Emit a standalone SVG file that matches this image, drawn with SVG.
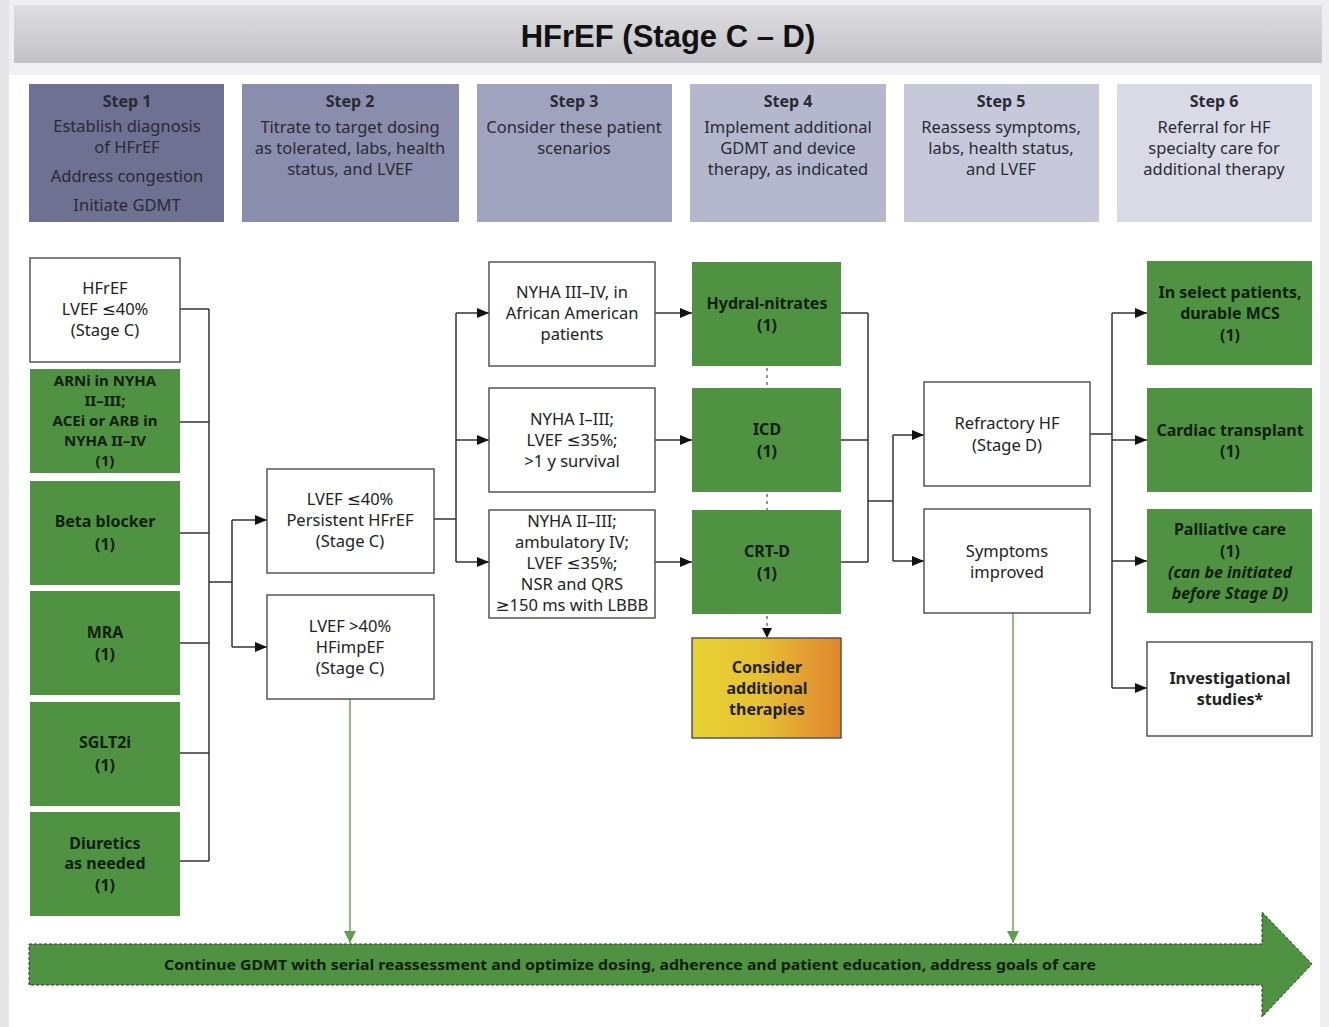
<svg xmlns="http://www.w3.org/2000/svg" width="1329" height="1027" viewBox="0 0 1329 1027">
<defs>
<linearGradient id="hdr" x1="0" y1="0" x2="0" y2="1">
<stop offset="0" stop-color="#dedee1"/><stop offset="1" stop-color="#c3c3c7"/>
</linearGradient>
<linearGradient id="warm" x1="0" y1="0" x2="1" y2="0">
<stop offset="0" stop-color="#e8d232"/><stop offset="0.45" stop-color="#e6c234"/><stop offset="1" stop-color="#e0852e"/>
</linearGradient>
<marker id="ah" markerUnits="userSpaceOnUse" markerWidth="12" markerHeight="10" refX="12" refY="5" orient="auto">
<path d="M0,0 L12,5 L0,10 Z" fill="#111"/>
</marker>
<marker id="ahg" markerUnits="userSpaceOnUse" markerWidth="12" markerHeight="12" refX="6" refY="12" orient="0">
<path d="M0,0 L12,0 L6,12 Z" fill="#5f9f4e"/>
</marker>
<marker id="ahd" markerUnits="userSpaceOnUse" markerWidth="10" markerHeight="10" refX="5" refY="10" orient="0">
<path d="M0,0 L10,0 L5,10 Z" fill="#111"/>
</marker>
<style>
.step text{font-family:"Noto Sans","DejaVu Sans",sans-serif;font-size:16.5px;fill:#2a2a34;text-anchor:middle}
.step .h{font-weight:bold;font-size:16px}
.wb rect{fill:#fff;stroke:#555;stroke-width:1.5}
.gb rect{fill:#4f9241;stroke:none}
.wb text{font-family:"Noto Sans","DejaVu Sans",sans-serif;font-size:16.5px;fill:#222;text-anchor:middle}
.gb text,.bold text{font-family:"Noto Sans","DejaVu Sans",sans-serif;font-size:16px;font-weight:bold;fill:#13200f;text-anchor:middle}
.gb .s{font-size:15px}
.bold text{fill:#222}
.it{font-style:italic}
.conn path{fill:none;stroke:#333;stroke-width:1.5}
.conn .g{stroke:#6aa85a;stroke-width:1.5}
.conn .dot{stroke:#777;stroke-dasharray:3 4;stroke-width:1.6}
</style>
</defs>
<rect x="0" y="0" width="1329" height="1027" fill="#fff"/>
<rect x="0" y="0" width="1329" height="75" fill="#f0f0f2"/>
<rect x="0" y="0" width="9" height="1027" fill="#e6e6e9"/>
<rect x="1320" y="0" width="9" height="1027" fill="#eeeef0"/>
<g id="title">
<rect x="14" y="5" width="1308" height="58" fill="url(#hdr)"/>
<text x="668" y="47" font-family="Liberation Sans,Arial,sans-serif" font-size="31" font-weight="bold" text-anchor="middle" fill="#111">HFrEF (Stage C – D)</text>
</g>
<g id="step1" class="step"><rect x="29" y="84" width="195" height="138" fill="#6e7191"/>
<text class="h" x="127" y="107">Step 1</text><text x="127" y="132">Establish diagnosis</text><text x="127" y="153">of HFrEF</text><text x="127" y="182">Address congestion</text><text x="127" y="211">Initiate GDMT</text></g>
<g id="step2" class="step"><rect x="242" y="84" width="217" height="138" fill="#8a8dab"/>
<text class="h" x="350" y="107">Step 2</text><text x="350" y="133">Titrate to target dosing</text><text x="350" y="154">as tolerated, labs, health</text><text x="350" y="175">status, and LVEF</text></g>
<g id="step3" class="step"><rect x="477" y="84" width="195" height="138" fill="#a0a3bd"/>
<text class="h" x="574" y="107">Step 3</text><text x="574" y="133">Consider these patient</text><text x="574" y="154">scenarios</text></g>
<g id="step4" class="step"><rect x="690" y="84" width="196" height="138" fill="#b5b8cd"/>
<text class="h" x="788" y="107">Step 4</text><text x="788" y="133">Implement additional</text><text x="788" y="154">GDMT and device</text><text x="788" y="175">therapy, as indicated</text></g>
<g id="step5" class="step"><rect x="904" y="84" width="195" height="138" fill="#c7c9da"/>
<text class="h" x="1001" y="107">Step 5</text><text x="1001" y="133">Reassess symptoms,</text><text x="1001" y="154">labs, health status,</text><text x="1001" y="175">and LVEF</text></g>
<g id="step6" class="step"><rect x="1117" y="84" width="195" height="138" fill="#d9dae6"/>
<text class="h" x="1214" y="107">Step 6</text><text x="1214" y="133">Referral for HF</text><text x="1214" y="154">specialty care for</text><text x="1214" y="175">additional therapy</text></g>

<g class="conn" id="connectors">
<path d="M180,309 H209 M180,422 H209 M180,533 H209 M180,643 H209 M180,753 H209 M180,861 H209 M209,309 V861"/>
<path d="M209,582 H232 M232,520 V647"/>
<path d="M232,520 H267" marker-end="url(#ah)"/>
<path d="M232,647 H267" marker-end="url(#ah)"/>
<path d="M434,519 H456 M456,313 V562"/>
<path d="M456,313 H489" marker-end="url(#ah)"/>
<path d="M456,440 H489" marker-end="url(#ah)"/>
<path d="M456,562 H489" marker-end="url(#ah)"/>
<path d="M655,313 H692" marker-end="url(#ah)"/>
<path d="M655,440 H692" marker-end="url(#ah)"/>
<path d="M655,562 H692" marker-end="url(#ah)"/>
<path class="dot" d="M767,368 V388 M767,494 V510"/>
<path class="dot" d="M767,616 V628"/>
<path d="M767,627 V638" marker-end="url(#ahd)" style="stroke:none"/>
<path d="M841,313 H868 M841,440 H868 M841,562 H868 M868,313 V562 M868,501 H893 M893,435 V561"/>
<path d="M893,435 H924" marker-end="url(#ah)"/>
<path d="M893,561 H924" marker-end="url(#ah)"/>
<path d="M1090,434 H1112 M1112,313 V688"/>
<path d="M1112,313 H1147" marker-end="url(#ah)"/>
<path d="M1112,440 H1147" marker-end="url(#ah)"/>
<path d="M1112,561 H1147" marker-end="url(#ah)"/>
<path d="M1112,688 H1147" marker-end="url(#ah)"/>
<path class="g" d="M350,699 V943" marker-end="url(#ahg)"/>
<path class="g" d="M1013,613 V943" marker-end="url(#ahg)"/>
</g>

<g id="hfref" class="wb"><rect x="30" y="258" width="150" height="104"/>
<text x="105" y="294">HFrEF</text><text x="105" y="315">LVEF ≤40%</text><text x="105" y="336">(Stage C)</text></g>
<g id="arni" class="gb"><rect x="30" y="369" width="150" height="104"/>
<text class="s" x="105" y="386">ARNi in NYHA</text><text class="s" x="105" y="406">II–III;</text><text class="s" x="105" y="426">ACEi or ARB in</text><text class="s" x="105" y="446">NYHA II–IV</text><text class="s" x="105" y="466">(1)</text></g>
<g id="beta" class="gb"><rect x="30" y="481" width="150" height="104"/>
<text x="105" y="527">Beta blocker</text><text x="105" y="550">(1)</text></g>
<g id="mra" class="gb"><rect x="30" y="591" width="150" height="104"/>
<text x="105" y="638">MRA</text><text x="105" y="660">(1)</text></g>
<g id="sglt2i" class="gb"><rect x="30" y="702" width="150" height="104"/>
<text x="105" y="748">SGLT2i</text><text x="105" y="771">(1)</text></g>
<g id="diuretics" class="gb"><rect x="30" y="812" width="150" height="104"/>
<text x="105" y="849">Diuretics</text><text x="105" y="869">as needed</text><text x="105" y="891">(1)</text></g>

<g id="persistent" class="wb"><rect x="267" y="469" width="167" height="104"/>
<text x="350" y="505">LVEF ≤40%</text><text x="350" y="526">Persistent HFrEF</text><text x="350" y="547">(Stage C)</text></g>
<g id="improved" class="wb"><rect x="267" y="595" width="167" height="104"/>
<text x="350" y="632">LVEF &gt;40%</text><text x="350" y="653">HFimpEF</text><text x="350" y="674">(Stage C)</text></g>

<g id="nyha34" class="wb"><rect x="489" y="262" width="166" height="104"/>
<text x="572" y="298">NYHA III–IV, in</text><text x="572" y="319">African American</text><text x="572" y="340">patients</text></g>
<g id="nyha13" class="wb"><rect x="489" y="388" width="166" height="104"/>
<text x="572" y="425">NYHA I–III;</text><text x="572" y="446">LVEF ≤35%;</text><text x="572" y="467">&gt;1 y survival</text></g>
<g id="nyha23" class="wb"><rect x="489" y="510" width="166" height="108"/>
<text x="572" y="527">NYHA II–III;</text><text x="572" y="548">ambulatory IV;</text><text x="572" y="569">LVEF ≤35%;</text><text x="572" y="590">NSR and QRS</text><text x="572" y="611">≥150 ms with LBBB</text></g>

<g id="hydral" class="gb"><rect x="692" y="262" width="149" height="104"/>
<text x="767" y="309">Hydral-nitrates</text><text x="767" y="331">(1)</text></g>
<g id="icd" class="gb"><rect x="692" y="388" width="149" height="104"/>
<text x="767" y="435">ICD</text><text x="767" y="457">(1)</text></g>
<g id="crtd" class="gb"><rect x="692" y="510" width="149" height="104"/>
<text x="767" y="557">CRT-D</text><text x="767" y="579">(1)</text></g>
<g id="consider" class="bold"><rect x="692" y="638" width="149" height="100" fill="url(#warm)" stroke="#555" stroke-width="1.5"/>
<text x="767" y="673" fill="#1a1a10">Consider</text><text x="767" y="694">additional</text><text x="767" y="715">therapies</text></g>

<g id="refractory" class="wb"><rect x="924" y="382" width="166" height="104"/>
<text x="1007" y="429">Refractory HF</text><text x="1007" y="451">(Stage D)</text></g>
<g id="symptoms" class="wb"><rect x="924" y="509" width="166" height="104"/>
<text x="1007" y="557">Symptoms</text><text x="1007" y="578">improved</text></g>

<g id="mcs" class="gb"><rect x="1147" y="261" width="165" height="104"/>
<text x="1230" y="298">In select patients,</text><text x="1230" y="319">durable MCS</text><text x="1230" y="341">(1)</text></g>
<g id="transplant" class="gb"><rect x="1147" y="388" width="165" height="104"/>
<text x="1230" y="436">Cardiac transplant</text><text x="1230" y="457">(1)</text></g>
<g id="palliative" class="gb"><rect x="1147" y="509" width="165" height="104"/>
<text x="1230" y="535">Palliative care</text><text x="1230" y="557">(1)</text><text class="it" x="1230" y="578">(can be initiated</text><text class="it" x="1230" y="599">before Stage D)</text></g>
<g id="investigational" class="bold"><rect x="1147" y="642" width="165" height="94" fill="#fff" stroke="#555" stroke-width="1.5"/>
<text x="1230" y="684">Investigational</text><text x="1230" y="705">studies*</text></g>

<g id="continue">
<path d="M29,944 H1262 V912 L1312,964 L1262,1017 V985 H29 Z" fill="#4f9241" stroke="#2a3a25" stroke-width="1" stroke-dasharray="3 2"/>
<text x="630" y="970" font-family="Noto Sans,DejaVu Sans,sans-serif" font-size="15" font-weight="bold" fill="#13200f" text-anchor="middle" textLength="932" lengthAdjust="spacingAndGlyphs">Continue GDMT with serial reassessment and optimize dosing, adherence and patient education, address goals of care</text>
</g>
</svg>
